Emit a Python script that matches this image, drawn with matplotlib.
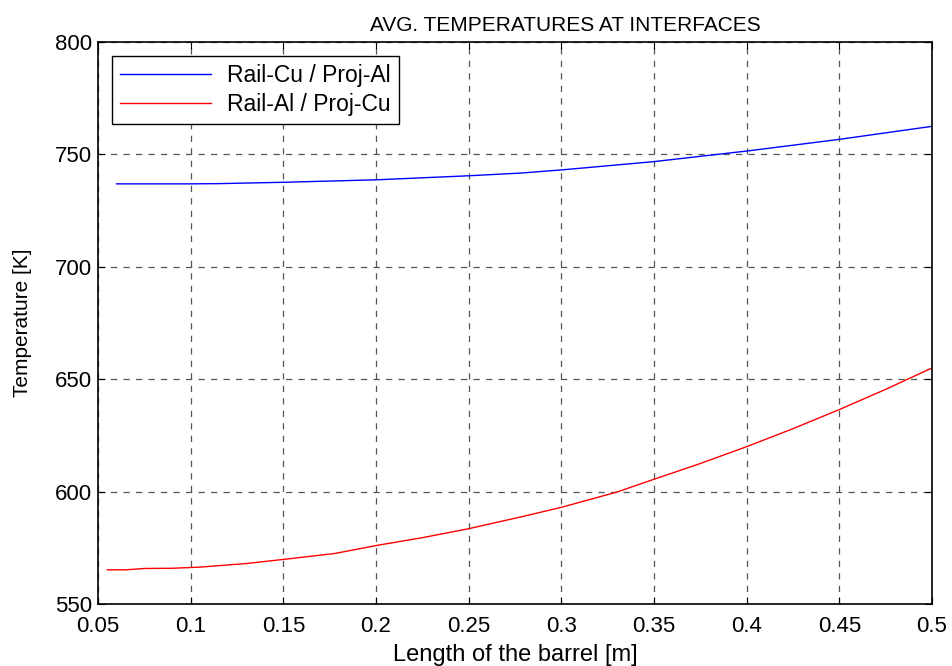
import matplotlib
matplotlib.use("Agg")
import matplotlib.pyplot as plt

# interface temperatures along the barrel
x_cu_al = [0.06, 0.08, 0.1, 0.115, 0.15, 0.2, 0.25, 0.278, 0.3, 0.35, 0.4, 0.45, 0.5]
t_cu_al = [736.9, 736.9, 736.9, 737.0, 737.6, 738.7, 740.5, 741.7, 743.1, 746.8, 751.5, 756.7, 762.5]

x_al_cu = [0.055, 0.065, 0.075, 0.09, 0.105, 0.13, 0.155, 0.178, 0.2, 0.225, 0.25,
           0.278, 0.3, 0.33, 0.35, 0.375, 0.4, 0.425, 0.45, 0.475, 0.5]
t_al_cu = [565.2, 565.2, 565.8, 565.9, 566.4, 568.0, 570.3, 572.5, 576.0, 579.5, 583.5,
           588.7, 593.0, 599.8, 605.5, 612.5, 620.0, 628.0, 636.5, 645.5, 655.0]

x_ticks = [0.05, 0.1, 0.15, 0.2, 0.25, 0.3, 0.35, 0.4, 0.45, 0.5]
x_tick_labels = ["0.05", "0.1", "0.15", "0.2", "0.25", "0.3", "0.35", "0.4", "0.45", "0.5"]
y_ticks = [550, 600, 650, 700, 750, 800]

plt.rcParams["font.family"] = ["Liberation Sans", "DejaVu Sans"]

fig = plt.figure(figsize=(9.53, 6.66), dpi=100)
ax = fig.add_axes([0.1028, 0.0931, 0.8752, 0.8438])

ax.plot(x_cu_al, t_cu_al, color="blue", lw=1.0, label="Rail-Cu / Proj-Al")
ax.plot(x_al_cu, t_al_cu, color="red", lw=1.0, label="Rail-Al / Proj-Cu")

ax.set_xlim(0.05, 0.5)
ax.set_ylim(550, 800)
ax.set_xticks(x_ticks)
ax.set_xticklabels(x_tick_labels)
ax.set_yticks(y_ticks)

ax.grid(True, color="#555555", linestyle=(0, (5, 5)), lw=0.9)
ax.tick_params(direction="in", top=True, right=True, labelsize=16, length=5, width=0.8)
ax.tick_params(axis="x", pad=9)
ax.tick_params(axis="y", pad=4)
for s in ax.spines.values():
    s.set_linewidth(1.2)

ax.set_title("AVG. TEMPERATURES AT INTERFACES", fontsize=15, x=0.56, pad=8)
ax.set_xlabel("Length of the barrel [m]", fontsize=17, labelpad=5)
ax.set_ylabel("Temperature [K]", fontsize=15, labelpad=17)

leg = ax.legend(loc="upper left", fontsize=16.5, fancybox=False, framealpha=1,
                edgecolor="black", handlelength=4.0, borderaxespad=0.6,
                handletextpad=0.7, labelspacing=0.25, borderpad=0.35)
leg.get_frame().set_linewidth(1.0)

fig.savefig("out.png", dpi=100)
